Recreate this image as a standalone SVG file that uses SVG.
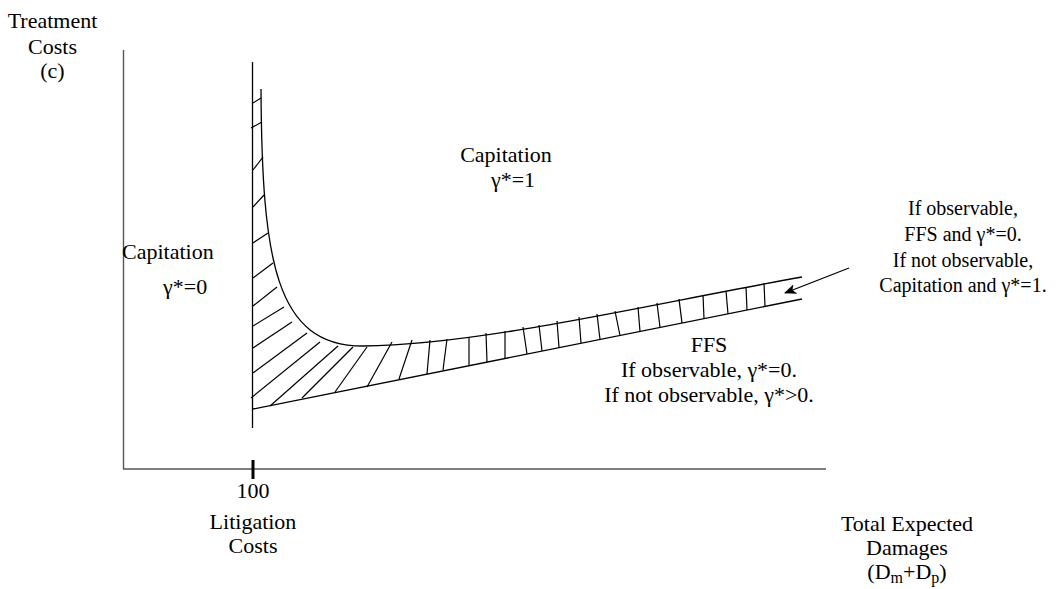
<svg xmlns="http://www.w3.org/2000/svg" width="1059" height="589" viewBox="0 0 1059 589">
<style>
text{font-family:"Liberation Serif","Times New Roman",serif;font-size:22px;fill:#000}
.c{text-anchor:middle}
.s{font-size:20px}
.ln{stroke:#000;stroke-width:1.3;fill:none}
.ax{stroke:#555;stroke-width:1.4;fill:none}
.h{stroke:#000;stroke-width:1.2}
</style>
<defs>
<marker id="ah" markerWidth="12" markerHeight="10" refX="11" refY="5" orient="auto" markerUnits="userSpaceOnUse">
<path d="M0,0 L12,5 L0,10 L3,5 Z" fill="#000"/>
</marker>
</defs>
<g id="axes">
<line class="ax" x1="123.5" y1="50" x2="123.5" y2="469"/>
<line class="ax" x1="123" y1="469" x2="826" y2="469"/>
<line x1="253" y1="460" x2="253" y2="479" stroke="#000" stroke-width="3"/>
</g>
<g id="connectors">
<line class="ln" x1="252.5" y1="62" x2="252.5" y2="428"/>
<path class="ln" d="M261,89 C262,260 275,346 363,346 C480,345 650,304 802,277"/>
<line class="ln" x1="253" y1="409" x2="802" y2="299"/>
<line class="ln" x1="849" y1="268" x2="785" y2="293" marker-end="url(#ah)"/>
</g>
<g id="hatching">
<line class="h" x1="253" y1="103" x2="261" y2="98"/>
<line class="h" x1="251" y1="128" x2="262" y2="122"/>
<line class="h" x1="253" y1="170" x2="263" y2="157"/>
<line class="h" x1="253" y1="207" x2="264" y2="195"/>
<line class="h" x1="253" y1="243" x2="268" y2="233"/>
<line class="h" x1="253" y1="278" x2="273" y2="263"/>
<line class="h" x1="253" y1="306" x2="277" y2="287"/>
<line class="h" x1="253" y1="326" x2="284" y2="307"/>
<line class="h" x1="253" y1="348" x2="292" y2="322"/>
<line class="h" x1="253" y1="373" x2="307" y2="333"/>
<line class="h" x1="251" y1="398" x2="320" y2="342"/>
<line class="h" x1="270" y1="406" x2="338" y2="346"/>
<line class="h" x1="302" y1="398" x2="353" y2="347"/>
<line class="h" x1="335" y1="392" x2="367" y2="347"/>
<line class="h" x1="367" y1="387" x2="392" y2="342"/>
<line class="h" x1="399" y1="379" x2="412" y2="340"/>
<line class="h" x1="427" y1="374" x2="430" y2="340"/>
<line class="h" x1="443" y1="370" x2="447" y2="339"/>
<line class="h" x1="469" y1="365.5" x2="469" y2="337"/>
<line class="h" x1="487" y1="362" x2="486" y2="333"/>
<line class="h" x1="505" y1="358.5" x2="505" y2="331"/>
<line class="h" x1="527" y1="354" x2="523" y2="327"/>
<line class="h" x1="542" y1="351" x2="539" y2="325"/>
<line class="h" x1="559" y1="347.5" x2="557" y2="321"/>
<line class="h" x1="581" y1="343" x2="579" y2="317"/>
<line class="h" x1="600" y1="339.5" x2="597" y2="314"/>
<line class="h" x1="620" y1="335.5" x2="615" y2="311"/>
<line class="h" x1="640" y1="331.5" x2="638" y2="307"/>
<line class="h" x1="660" y1="327.5" x2="657" y2="303"/>
<line class="h" x1="682" y1="323" x2="679" y2="299"/>
<line class="h" x1="704" y1="318.5" x2="703" y2="295"/>
<line class="h" x1="728" y1="314" x2="726" y2="291"/>
<line class="h" x1="747" y1="310" x2="746" y2="287"/>
<line class="h" x1="765" y1="306.5" x2="764" y2="283"/>
</g>
<g id="y-label">
<text class="c" x="52.5" y="28">Treatment</text>
<text class="c" x="52.5" y="54">Costs</text>
<text class="c" x="52.5" y="78">(c)</text>
</g>
<g id="capitation-0">
<text x="122" y="259">Capitation</text>
<text x="163" y="294">γ*=0</text>
</g>
<g id="capitation-1">
<text class="c" x="506" y="162">Capitation</text>
<text class="c" x="513" y="187">γ*=1</text>
</g>
<g id="ffs">
<text class="c" x="709" y="352">FFS</text>
<text class="c" x="709" y="377">If observable, γ*=0.</text>
<text class="c" x="709" y="402">If not observable, γ*&gt;0.</text>
</g>
<g id="observable-note">
<text class="c s" x="963" y="215">If observable,</text>
<text class="c s" x="963" y="241">FFS and γ*=0.</text>
<text class="c s" x="963" y="267">If not observable,</text>
<text class="c s" x="963" y="292">Capitation and γ*=1.</text>
</g>
<g id="x-tick">
<text class="c" x="253" y="498">100</text>
<text class="c" x="253" y="529">Litigation</text>
<text class="c" x="253" y="553">Costs</text>
</g>
<g id="x-label">
<text class="c" x="907" y="531">Total Expected</text>
<text class="c" x="907" y="555">Damages</text>
<text class="c" x="907" y="579">(D<tspan font-size="16" dy="4">m</tspan><tspan dy="-4">+D</tspan><tspan font-size="16" dy="4">p</tspan><tspan dy="-4">)</tspan></text>
</g>
</svg>
